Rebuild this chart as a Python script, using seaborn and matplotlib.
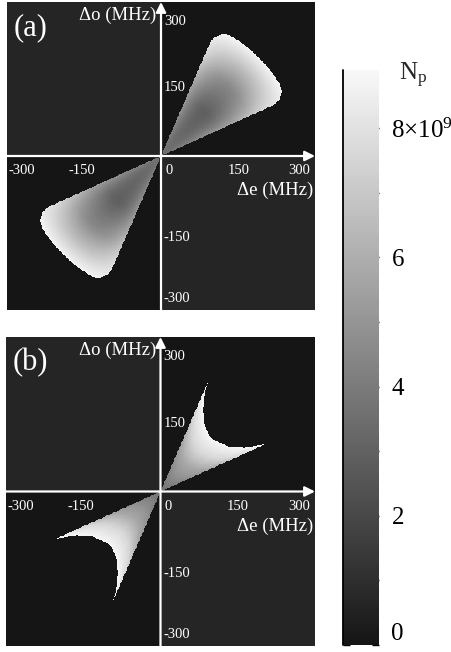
import numpy as np
import matplotlib
matplotlib.use("Agg")
import matplotlib.pyplot as plt
import seaborn as sns
from matplotlib.colors import LinearSegmentedColormap

sns.set_style("white")
plt.rcParams["font.family"] = ["Liberation Serif", "DejaVu Serif"]
plt.rcParams["mathtext.fontset"] = "custom"
plt.rcParams["mathtext.rm"] = "Liberation Serif"
plt.rcParams["mathtext.it"] = "Liberation Serif:italic"

# ---------------------------------------------------------------
# data (detunings in MHz, Np in units of 1e9)
# ---------------------------------------------------------------
SPAN = 335            # half width of each map
NGRID = 400
WEDGE = [24.3, 66.6]  # angles of the two straight edges (deg)

# (a) rounded wedge
RIM_A = 302
CORNER_A = 38
S_CENTER_A = [0.0, 0.45, 0.70, 0.85, 1.0]   # r / rim along the middle
NP_CENTER_A = [3.6, 2.9, 4.5, 6.5, 8.7]
S_SIDE_A = [0.0, 0.55, 0.80, 1.0]           # r / rim along the edges
NP_SIDE_A = [3.6, 5.5, 7.5, 8.8]

# (b) cusp: outer (concave) boundary
ANG_B = [24.3, 27.3, 33.6, 41.9, 46.0, 50.4, 57.2, 62.3, 65.2, 66.6]
RAD_B = [248, 205, 176, 163, 160, 162, 174, 198, 225, 256]
Q_B = [0.0, 0.5, 0.75, 1.0]                 # r / boundary radius
NP_B = [3.5, 5.7, 7.6, 8.8]

NP_MAX = 8.9
CBAR_TICKS = list(range(9))
CBAR_LABELS = ["0", "", "2", "", "4", "", "6", "", r"8$\times$10$^{9}$"]
E_TICKS = [-300, -150, 0, 150, 300]
O_TICKS = [300, 150, -150, -300]
PANELS = ["(a)", "(b)"]

cmap = LinearSegmentedColormap.from_list("np_gray", ["#151515", "#f8f8f8"])

W, H = 452, 652


def px_box(left, top, right, bottom):
    return [left / W, 1 - bottom / H, (right - left) / W, (bottom - top) / H]


# grid (rows from +SPAN at top to -SPAN at bottom, like the picture)
edges = np.linspace(-SPAN, SPAN, NGRID + 1)
cent = 0.5 * (edges[:-1] + edges[1:])
E, O = np.meshgrid(cent, cent[::-1])
odd_quad = (E * O) < 0
x, y = np.abs(E), np.abs(O)
r = np.hypot(x, y)
th = np.degrees(np.arctan2(y, x))
mid = 0.5 * (WEDGE[0] + WEDGE[1])
half = 0.5 * (WEDGE[1] - WEDGE[0])


def field_a():
    d1 = r * np.sin(np.radians(th - WEDGE[0]))
    d2 = r * np.sin(np.radians(WEDGE[1] - th))
    d3 = RIM_A - r
    inside = (d1 >= 0) & (d2 >= 0) & (d3 >= 0)
    k = CORNER_A
    for d in (d1, d2):
        inside &= ~((d < k) & (d3 < k) & (np.hypot(k - d, k - d3) > k))
    s = r / RIM_A
    u = np.clip((th - mid) / half, -1, 1)
    val = (np.interp(s, S_CENTER_A, NP_CENTER_A) * (1 - u**2)
           + np.interp(s, S_SIDE_A, NP_SIDE_A) * u**2)
    z = np.where(inside, val, 0.0)
    return np.where(odd_quad, np.nan, z)


def field_b():
    R = np.interp(th, ANG_B, RAD_B)
    inside = (th >= WEDGE[0]) & (th <= WEDGE[1]) & (r <= R)
    val = np.interp(r / R, Q_B, NP_B)
    z = np.where(inside, val, 0.0)
    return np.where(odd_quad, np.nan, z)


fig = plt.figure(figsize=(W / 100, H / 100), dpi=100)
cax = fig.add_axes(px_box(343, 70, 379, 645))

boxes = [px_box(7, 2, 315, 310), px_box(6, 337, 315, 646)]
fields = [field_a(), field_b()]

for i, (box, z) in enumerate(zip(boxes, fields)):
    ax = fig.add_axes(box)
    ax.set_facecolor("#252525")
    sns.heatmap(z, ax=ax, cmap=cmap, vmin=0, vmax=NP_MAX, mask=np.isnan(z),
                cbar=(i == 0), cbar_ax=cax if i == 0 else None,
                xticklabels=False, yticklabels=False, rasterized=True)

    # overlay in MHz for the axes, arrows and labels
    ov = fig.add_axes(box)
    ov.set_xlim(-SPAN, SPAN)
    ov.set_ylim(-SPAN, SPAN)
    ov.axis("off")
    ov.patch.set_alpha(0)
    arrow = dict(arrowstyle="-|>", color="white", lw=1.6,
                 mutation_scale=15, shrinkA=0, shrinkB=0)
    ov.annotate("", xy=(SPAN, 0), xytext=(-SPAN, 0), arrowprops=arrow)
    ov.annotate("", xy=(0, SPAN), xytext=(0, -SPAN), arrowprops=arrow)

    shift_e = {-300: -3, -150: -22, 0: 17, 150: 18, 300: 0}
    for v in E_TICKS:
        ov.text(v + shift_e[v], -32, f"{v}", color="white", fontsize=10.5,
                ha="center", va="center")
    shift_o = {300: -7, 150: -2, -150: -27, -300: -10}
    for v in O_TICKS:
        ov.text(6, v + shift_o[v], f"{v}", color="white", fontsize=10.5,
                ha="left", va="center")

    ov.text(-10, 307, "Δo (MHz)", color="white", fontsize=13.5,
            ha="right", va="center")
    ov.text(332, -75, "Δe (MHz)", color="white", fontsize=13.5,
            ha="right", va="center")
    ov.text(-283, 280, PANELS[i], color="white", fontsize=22,
            ha="center", va="center")

# colorbar
cbar = fig.axes[1].collections[0].colorbar
cbar.outline.set_visible(False)
cbar.set_ticks(CBAR_TICKS)
cbar.set_ticklabels(CBAR_LABELS)
cax.tick_params(which="both", direction="in", length=5, width=1,
                left=True, right=True, labelleft=False, labelright=True,
                labelsize=18, pad=9, colors="black")
cax.axvline(0, color="black", lw=1.3, clip_on=False)
cax.yaxis.get_major_ticks()[0].label2.set_va("bottom")

fig.text(413 / W, 1 - 75 / H, r"N$_{\mathrm{p}}$", fontsize=18,
         ha="center", va="center")

fig.savefig("out.png", dpi=100)
